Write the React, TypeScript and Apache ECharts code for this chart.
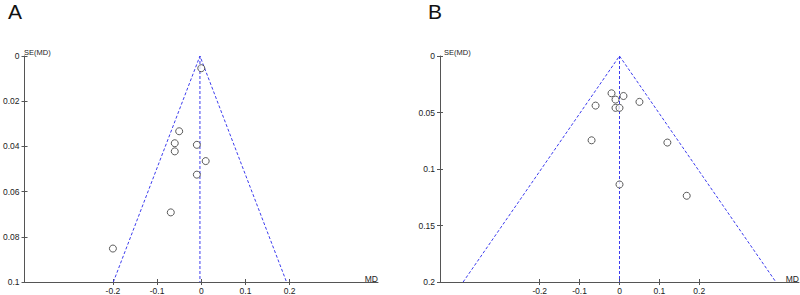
import React, { useEffect, useRef } from "react";
import * as echarts from "echarts";

// Panel A: mean difference (MD) vs standard error SE(MD)
const mdA = [0.0, -0.05, -0.06, -0.01, -0.06, 0.01, -0.01, -0.069, -0.2];
const seA = [0.0054, 0.0333, 0.0386, 0.0393, 0.0422, 0.0465, 0.0525, 0.0692, 0.0852];
const centerA = -0.003;
const seMaxA = 0.1;

// Panel B
const mdB = [-0.02, 0.01, -0.01, 0.05, -0.06, -0.01, 0.0, -0.07, 0.12, 0.0, 0.1685];
const seB = [0.033, 0.0354, 0.0386, 0.0406, 0.0439, 0.0459, 0.0459, 0.0746, 0.0766, 0.1137, 0.1237];
const centerB = 0;
const seMaxB = 0.2;

const xTicks = [-0.2, -0.1, 0, 0.1, 0.2];

const FONT = "'Liberation Sans', Arial, sans-serif";
const AXIS_COLOR = "#555";
const TEXT_COLOR = "#222";
const FUNNEL_COLOR = "#3c3cee";

function funnel(center: number, seMax: number) {
  return [
    [center - 1.96 * seMax, seMax],
    [center, 0],
    [center + 1.96 * seMax, seMax],
  ];
}

export default function App() {
  const ref = useRef<HTMLDivElement>(null);

  useEffect(() => {
    if (!ref.current) return;
    const chart = echarts.init(ref.current, null, { renderer: "svg" });

    const mkX = (grid: number, min: number, max: number, inside: boolean) => ({
      type: "value",
      gridIndex: grid,
      min,
      max,
      interval: 0.1,
      position: "bottom",
      splitLine: { show: false },
      axisLine: {
        show: !inside,
        onZero: false,
        lineStyle: { color: AXIS_COLOR, width: 1 },
      },
      axisTick: {
        show: true,
        inside,
        length: 3,
        customValues: xTicks,
        lineStyle: { color: AXIS_COLOR, width: 1 },
      },
      axisLabel: inside
        ? { show: false }
        : {
            show: true,
            customValues: xTicks,
            margin: 4,
            color: TEXT_COLOR,
            fontSize: 8.5,
            fontFamily: FONT,
          },
    });

    const mkY = (grid: number, max: number, interval: number, inside: boolean) => ({
      type: "value",
      gridIndex: grid,
      min: 0,
      max,
      interval,
      inverse: true,
      position: "left",
      splitLine: { show: false },
      axisLine: {
        show: !inside,
        onZero: false,
        lineStyle: { color: AXIS_COLOR, width: 1 },
      },
      axisTick: {
        show: true,
        inside,
        length: 3,
        lineStyle: { color: AXIS_COLOR, width: 1 },
      },
      axisLabel: inside
        ? { show: false }
        : {
            show: true,
            margin: 5,
            color: TEXT_COLOR,
            fontSize: 8.5,
            fontFamily: FONT,
          },
    });

    const dashed = {
      color: FUNNEL_COLOR,
      width: 1,
      type: [3, 2],
    };

    const scatterStyle = {
      type: "scatter",
      symbol: "circle",
      symbolSize: 7,
      itemStyle: { color: "#fff", borderColor: "#333", borderWidth: 1 },
      z: 5,
    };

    chart.setOption({
      animation: false,
      grid: [
        { left: 20, top: 56, width: 358, height: 228 },
        { left: 440, top: 56, width: 359, height: 228 },
      ],
      xAxis: [
        mkX(0, -0.4, 0.4, false),
        mkX(0, -0.4, 0.4, true),
        mkX(1, -0.45, 0.45, false),
        mkX(1, -0.45, 0.45, true),
      ],
      yAxis: [
        mkY(0, seMaxA, 0.02, false),
        mkY(0, seMaxA, 0.02, true),
        mkY(1, seMaxB, 0.05, false),
        mkY(1, seMaxB, 0.05, true),
      ],
      series: [
        {
          type: "line",
          xAxisIndex: 0,
          yAxisIndex: 0,
          data: funnel(centerA, seMaxA),
          symbol: "none",
          lineStyle: dashed,
          z: 2,
        },
        {
          type: "line",
          xAxisIndex: 0,
          yAxisIndex: 0,
          data: [
            [centerA, 0],
            [centerA, seMaxA],
          ],
          symbol: "none",
          lineStyle: dashed,
          z: 2,
        },
        {
          ...scatterStyle,
          xAxisIndex: 0,
          yAxisIndex: 0,
          data: mdA.map((m, i) => [m, seA[i]]),
        },
        {
          type: "line",
          xAxisIndex: 2,
          yAxisIndex: 2,
          data: funnel(centerB, seMaxB),
          symbol: "none",
          lineStyle: dashed,
          z: 2,
        },
        {
          type: "line",
          xAxisIndex: 2,
          yAxisIndex: 2,
          data: [
            [centerB, 0],
            [centerB, seMaxB],
          ],
          symbol: "none",
          lineStyle: dashed,
          z: 2,
        },
        {
          ...scatterStyle,
          xAxisIndex: 2,
          yAxisIndex: 2,
          data: mdB.map((m, i) => [m, seB[i]]),
        },
      ],
      graphic: [
        {
          type: "text",
          left: 8,
          top: 1,
          style: { text: "A", fontSize: 21, fontFamily: FONT, fill: "#111" },
        },
        {
          type: "text",
          left: 428,
          top: 1,
          style: { text: "B", fontSize: 21, fontFamily: FONT, fill: "#111" },
        },
        {
          type: "text",
          x: 24,
          y: 52,
          style: {
            text: "SE(MD)",
            fontSize: 7.5,
            fontFamily: FONT,
            fill: TEXT_COLOR,
            textVerticalAlign: "middle",
          },
        },
        {
          type: "text",
          x: 444,
          y: 52,
          style: {
            text: "SE(MD)",
            fontSize: 7.5,
            fontFamily: FONT,
            fill: TEXT_COLOR,
            textVerticalAlign: "middle",
          },
        },
        {
          type: "text",
          x: 378,
          y: 279,
          style: {
            text: "MD",
            fontSize: 8.5,
            fontFamily: FONT,
            fill: TEXT_COLOR,
            textAlign: "right",
            textVerticalAlign: "middle",
          },
        },
        {
          type: "text",
          x: 799,
          y: 279,
          style: {
            text: "MD",
            fontSize: 8.5,
            fontFamily: FONT,
            fill: TEXT_COLOR,
            textAlign: "right",
            textVerticalAlign: "middle",
          },
        },
      ],
    });

    return () => chart.dispose();
  }, []);

  return (
    <div
      ref={ref}
      style={{ width: 800, height: 295, position: "absolute", left: 0, top: 0 }}
    />
  );
}
